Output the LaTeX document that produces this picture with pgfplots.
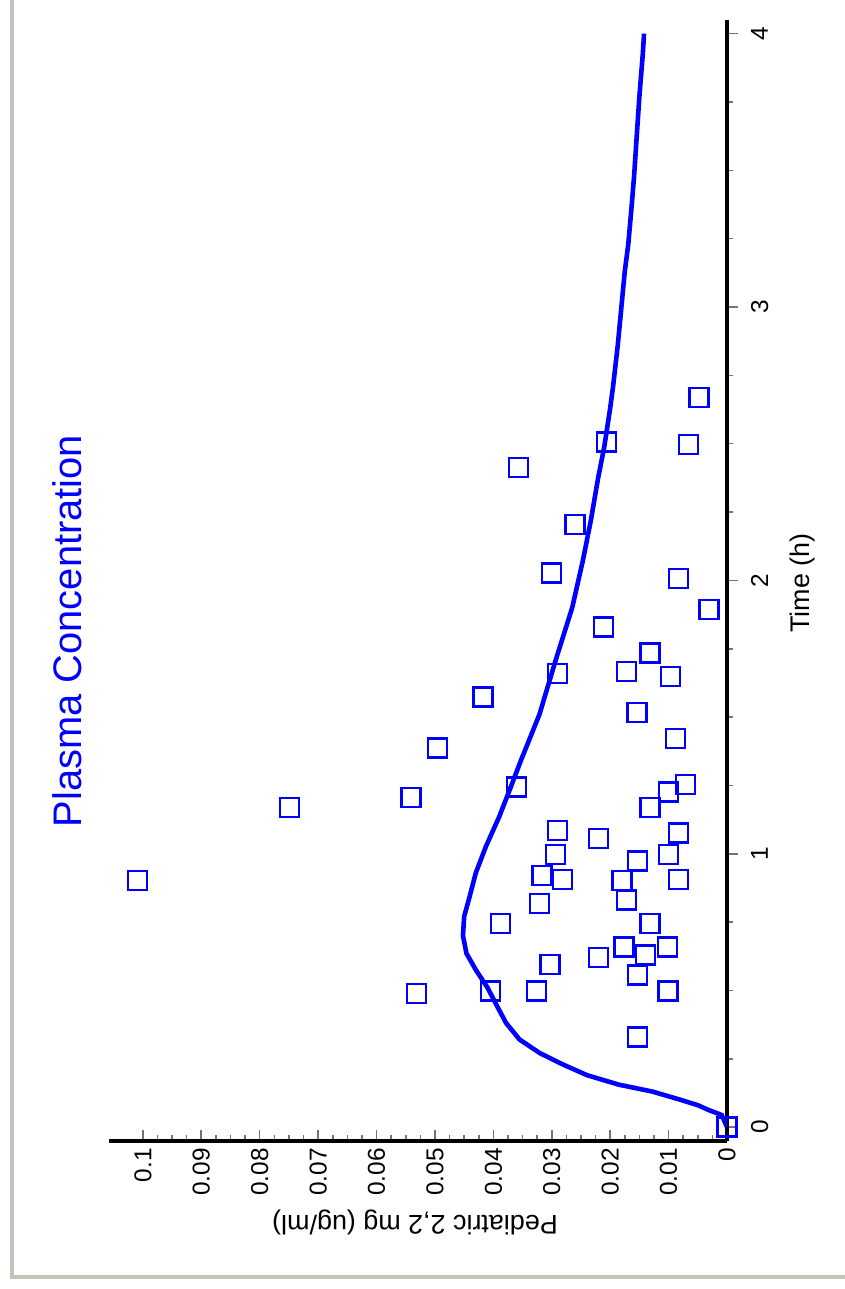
\documentclass[border=0pt]{standalone}
\usepackage{fontspec}
\setmainfont{Liberation Sans}
\usepackage{pgfplots}
\pgfplotsset{compat=1.18}
\usepackage{pgfplotstable}

% observed plasma concentrations (time in h, concentration in ug/ml)
\pgfplotstableread{
time  conc
2.669 0.0048
2.506 0.0206
2.497 0.0066
2.412 0.0357
2.205 0.0260
2.027 0.0300
2.006 0.0083
1.893 0.0031
1.829 0.0211
1.735 0.0132
1.667 0.0172
1.649 0.0097
1.659 0.0290
1.573 0.0418
1.517 0.0154
1.422 0.0088
1.386 0.0496
1.205 0.0541
1.169 0.0749
0.903 0.1009
0.489 0.0532
1.244 0.0360
1.254 0.0071
1.226 0.0100
1.169 0.0132
1.084 0.0290
1.056 0.0220
1.076 0.0083
0.998 0.0294
0.973 0.0153
0.998 0.0100
0.921 0.0317
0.906 0.0282
0.903 0.0180
0.906 0.0083
0.818 0.0321
0.830 0.0172
0.745 0.0388
0.745 0.0132
0.659 0.0176
0.659 0.0102
0.629 0.0140
0.620 0.0220
0.594 0.0303
0.556 0.0153
0.498 0.0405
0.498 0.0326
0.498 0.0101
0.330 0.0153
0.000 0.0000
}\observed

% model prediction
\pgfplotstableread{
time  conc
0.000 0.0000
0.044 0.0009
0.062 0.0031
0.080 0.0050
0.100 0.0080
0.130 0.0128
0.155 0.0185
0.190 0.0240
0.230 0.0282
0.270 0.0320
0.320 0.0355
0.380 0.0378
0.440 0.0393
0.510 0.0410
0.575 0.0430
0.635 0.0446
0.700 0.0452
0.770 0.0450
0.840 0.0441
0.930 0.0430
1.025 0.0413
1.135 0.0390
1.245 0.0370
1.340 0.0353
1.510 0.0321
1.710 0.0293
1.900 0.0265
2.070 0.0247
2.220 0.0233
2.370 0.0221
2.490 0.0210
2.630 0.0200
2.710 0.0195
2.860 0.0187
3.040 0.0179
3.130 0.0175
3.230 0.0169
3.350 0.0164
3.480 0.0159
3.610 0.0155
3.770 0.0150
3.930 0.0144
4.000 0.0142
}\model

\definecolor{framegray}{RGB}{196,196,188}

\begin{document}
\begin{tikzpicture}
\useasboundingbox (0,0) rectangle (845bp,1289bp);
\draw[framegray, line width=4bp] (12bp,1289bp) -- (12bp,12bp) -- (845bp,12bp);
\begin{axis}[
  at={(109bp,148bp)}, anchor=south west,
  scale only axis, width=618bp, height=1121bp,
  x dir=reverse,
  xmin=0, xmax=0.1058,
  ymin=-0.051, ymax=4.05,
  axis x line*=bottom, axis y line*=right,
  axis line style={-, line width=4bp, black},
  x axis line style={-}, y axis line style={-},
  xtick={0,0.01,0.02,0.03,0.04,0.05,0.06,0.07,0.08,0.09,0.1},
  xticklabels={0,0.01,0.02,0.03,0.04,0.05,0.06,0.07,0.08,0.09,0.1},
  ytick={0,1,2,3,4},
  yticklabels={0,1,2,3,4},
  minor x tick num=3, minor y tick num=3,
  xtick align=inside, ytick align=outside,
  major tick length=11bp, minor tick length=6bp,
  tick style={draw=black!55, line width=1.6bp},
  xticklabel shift=7bp, yticklabel shift=13bp,
  xticklabel style={rotate=90, anchor=east, inner sep=0pt,
    font=\fontsize{24.5}{26}\selectfont},
  yticklabel style={rotate=90, anchor=north, inner sep=0pt,
    font=\fontsize{24.5}{26}\selectfont},
  clip=true,
]
\addplot[only marks, mark=square, mark size=9.5bp,
  mark options={draw=blue, fill=none, line width=2.4bp}]
  table[x=conc, y=time] {\observed};
\addplot[blue, line width=4.6bp, no marks]
  table[x=conc, y=time] {\model};
\end{axis}
\node[rotate=90, text=blue, font=\fontsize{40}{44}\selectfont] at (67bp,658bp) {Plasma Concentration};
\node[rotate=180, font=\fontsize{27}{30}\selectfont] at (415bp,67bp) {Pediatric 2,2 mg (ug/ml)};
\node[rotate=90, font=\fontsize{27}{30}\selectfont] at (803bp,706bp) {Time (h)};
\end{tikzpicture}
\end{document}
